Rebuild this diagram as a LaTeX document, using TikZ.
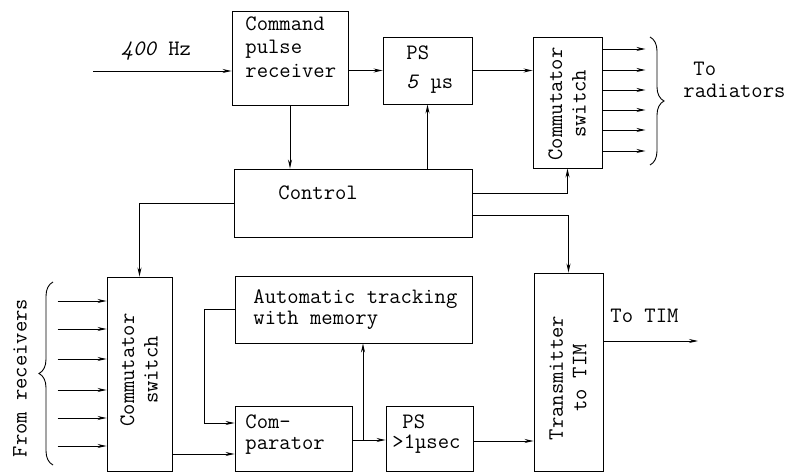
\documentclass[tikz,border=0pt]{standalone}
\usepackage{fontspec}
\usepackage{tikz}
\usetikzlibrary{arrows.meta,decorations.pathreplacing}

\tikzset{
  blk/.style={draw, inner sep=0pt},
  txt/.style={inner sep=0pt, font=\ttfamily\fontsize{22}{23.5}\selectfont, align=left},
  rtxt/.style={txt, rotate=90, align=center},
  brc/.style={decorate, decoration={brace, amplitude=14pt}},
}

\begin{document}
\begin{tikzpicture}[x=1pt,y=-1pt,line width=0.9pt,>={Stealth[length=9pt,width=4pt]}]
  \useasboundingbox (0,0) rectangle (790,473);

  % blocks
  \node[blk, minimum width=116pt, minimum height=94pt]  (rcv) at (290,58) {};
  \node[blk, minimum width=89pt,  minimum height=67pt]  (ps)  at (427.5,70.5) {};
  \node[blk, minimum width=69pt,  minimum height=131pt] (cs1) at (567.5,102.5) {};
  \node[blk, minimum width=238pt, minimum height=68pt]  (ctl) at (353,203) {};
  \node[blk, minimum width=65pt,  minimum height=194pt] (cs2) at (139.5,374) {};
  \node[blk, minimum width=237pt, minimum height=67pt]  (trk) at (353.5,309.5) {};
  \node[blk, minimum width=117pt, minimum height=65pt]  (cmp) at (293.5,438.5) {};
  \node[blk, minimum width=87pt,  minimum height=65pt]  (psb) at (429.5,438.5) {};
  \node[blk, minimum width=69pt,  minimum height=198pt] (tx)  at (568.5,372) {};

  % texts
  \node[txt, anchor=north west] (rcvtxt) at (245,16) {Command\\pulse\\receiver};
  \node[txt, anchor=north west] (pstxt)  at (406,45) {PS\\[5.5pt]\textit{5} µs};
  \node[rtxt] (cs1txt) at (567,104) {Commutator\\switch};
  \node[txt, anchor=base west] (ctltxt) at (278,200) {Control};
  \node[rtxt] (cs2txt) at (139,370) {Commutator\\switch};
  \node[txt, anchor=north west] (trktxt) at (253,289) {Automatic tracking\\[-2pt]with memory};
  \node[txt, anchor=north west] (cmptxt) at (245,414) {Com-\\[-2.5pt]parator};
  \node[txt, anchor=north west] (psbtxt) at (392,414) {\hspace*{10pt}PS\\[-3.5pt]>1µsec};
  \node[rtxt] (txtxt) at (568,378) {Transmitter\\to TIM};
  \node[txt, anchor=base west] (hz) at (121,56) {\textit{400} Hz};
  \node[txt, anchor=north west] (rad) at (683,62) {\hspace*{10pt}To\\[-1.5pt]radiators};
  \node[txt, anchor=base west] (timtxt) at (610,322) {To TIM};
  \node[rtxt] (from) at (20,378) {From receivers};

  \coordinate (in)  at (93,71);
  \coordinate (tim) at (698,341);
  \coordinate (br)  at (363,440);

  % connectors
  \draw[->] (in) -- (in -| rcv.west);
  \draw[->] (ps.west -| rcv.east) -- (ps.west);
  \draw[->] (ps.east) -- (ps.east -| cs1.west);
  \draw[->] (rcv.south) -- (rcv.south |- ctl.north);
  \draw[->] (ps.south |- ctl.north) -- (ps.south);
  \draw[->] (ctl.east |- 0,193) -| (cs1.south);
  \draw[->] (ctl.east |- 0,215) -| (tx.north);
  \draw[->] (ctl.west) -| (cs2.north);
  \foreach \y in {49,70,90,110,130,151}
    \draw[->] (cs1.east |- 0,\y) -- ++(43,0);
  \foreach \y in {301,329,359,390,418,446}
    \draw[->] (cs2.west |- 0,\y) ++(-49,0) -- (cs2.west |- 0,\y);
  \draw[->] (cs2.east |- 0,454) -- (cmp.west |- 0,454);
  \draw[->] (trk.west) -- ++(-30,0) |- (cmp.west |- 0,423);
  \draw[->] (cmp.east |- br) -- (psb.west |- br);
  \draw[->] (br) -- (br |- trk.south);
  \draw[->] (psb.east |- 0,441) -- (tx.west |- 0,441);
  \draw[->] (tx.east |- tim) -- (tim);

  % braces
  \draw[brc] (650,37) -- (650,165);
  \draw[brc] (53,465) -- (53,282);
\end{tikzpicture}
\end{document}
